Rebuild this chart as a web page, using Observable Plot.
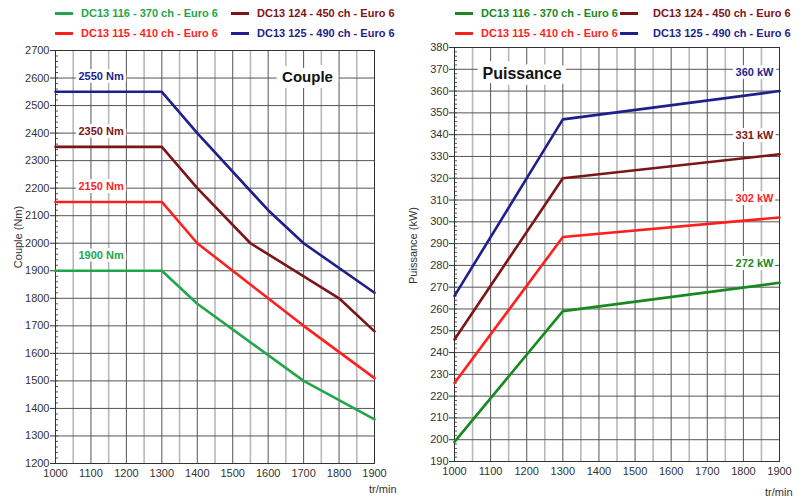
<!DOCTYPE html>
<html><head><meta charset="utf-8">
<script src="https://cdn.jsdelivr.net/npm/d3@7"></script>
<script src="https://cdn.jsdelivr.net/npm/@observablehq/plot@0.6"></script>
<style>
body{margin:0;background:#fff;font-family:"Liberation Sans",Arial,sans-serif}
#wrap{position:relative;width:804px;height:497px;overflow:hidden}
.chart{position:absolute;top:0}
.leg{position:absolute;font:bold 11px "Liberation Sans",Arial,sans-serif;white-space:nowrap;line-height:12px;height:12px}
.sw{position:absolute;height:3px;width:18px}
</style></head><body><div id="wrap"></div>
<script>
// ---- data ----
const seriesNames = ["DC13 116 - 370 ch - Euro 6","DC13 115 - 410 ch - Euro 6","DC13 124 - 450 ch - Euro 6","DC13 125 - 490 ch - Euro 6"];
const torqueColors = ["#22a64b","#ff1f1f","#7d1418","#1f1f8c"];
const powerColors  = ["#16891f","#ff1f1f","#7d1418","#1f1f8c"];

const torqueRpm116 = [1000,1300,1400,1700,1900];
const torque116    = [1900,1900,1780,1500,1360];
const torqueRpm115 = [1000,1300,1400,1700,1900];
const torque115    = [2150,2150,2000,1700,1510];
const torqueRpm124 = [1000,1300,1400,1550,1800,1900];
const torque124    = [2350,2350,2200,2000,1800,1680];
const torqueRpm125 = [1000,1300,1400,1600,1700,1900];
const torque125    = [2550,2550,2400,2120,2000,1820];

const powerRpm = [1000,1300,1900];
const power116 = [199,259,272];
const power115 = [226,293,302];
const power124 = [246,320,331];
const power125 = [266,347,360];

const torqueLabels = ["2550 Nm","2350 Nm","2150 Nm","1900 Nm"];
const torqueLabelValues = [2550,2350,2150,1900];
const torqueLabelSeries = [3,2,1,0];
const powerLabels = ["360 kW","331 kW","302 kW","272 kW"];
const powerLabelValues = [360,331,302,272];
const powerLabelSeries = [3,2,1,0];

const xTicks = d3.range(1000,1901,100);
const xMinorTicks = d3.range(1050,1900,100);
const torqueTicks = d3.range(1200,2701,100);
const torqueMinor = d3.range(1200,2701,20);
const powerTicks = d3.range(190,381,10);
const powerMinor = d3.range(190,381,2);

// legend order: row1 116, 124 ; row2 115, 125
const legendOrder = [[0,2],[1,3]];

// ---- build ----
function table(rpmsList, valsList){
  const out=[];
  rpmsList.forEach((rpms,i)=>rpms.forEach((r,j)=>out.push({name:seriesNames[i],rpm:r,value:valsList[i][j]})));
  return out;
}
const torqueRows = table([torqueRpm116,torqueRpm115,torqueRpm124,torqueRpm125],[torque116,torque115,torque124,torque125]);
const powerRows = table([powerRpm,powerRpm,powerRpm,powerRpm],[power116,power115,power124,power125]);

const font = {fontFamily:'"Liberation Sans", Arial, sans-serif', fontSize:"11px", color:"#333", background:"#fff", overflow:"visible"};
const fmt = d3.format("d");

function makeChart(o){
  return Plot.plot({
    width:402, height:497,
    marginTop:o.m[0], marginRight:o.m[1], marginBottom:o.m[2], marginLeft:o.m[3],
    style:font,
    x:{domain:[1000,1900]},
    y:{domain:o.yDomain},
    color:{domain:seriesNames, range:o.colors},
    marks:[
      Plot.gridX(xMinorTicks,{stroke:"#b8b8b8",strokeOpacity:1,strokeWidth:1.6}),
      Plot.gridX(xTicks,{stroke:"#555",strokeOpacity:1,strokeWidth:1}),
      Plot.gridY(o.yTicks,{stroke:"#555",strokeOpacity:1,strokeWidth:1}),
      Plot.axisX(xTicks,{tickSize:0,tickPadding:6,fontSize:11,fill:"#333",label:null,tickFormat:fmt}),
      Plot.axisY(o.yTicks,{tickSize:5,tickPadding:1,fontSize:11,fill:"#333",stroke:"#333",label:null,tickFormat:fmt}),
      Plot.axisY(o.yMinor,{tickSize:3,dx:3,tickFormat:()=>"",stroke:"#555",label:null}),
      Plot.frame({stroke:"#333"}),
      Plot.line(o.rows,{x:"rpm",y:"value",z:"name",stroke:"name",strokeWidth:2.6}),
      Plot.text(o.labels,{x:o.labelX,y:(d,i)=>o.labelValues[i],text:d=>d,dx:o.labelDx,dy:o.labelDy,
        textAnchor:o.labelAnchor,fill:(d,i)=>o.colors[o.labelSeries[i]],fontWeight:"bold",fontSize:11,
        stroke:"white",strokeWidth:6,strokeLinejoin:"round"}),
      Plot.text([o.title],{frameAnchor:o.titleFrame,dx:o.titleDx,dy:o.titleDy,textAnchor:o.titleAnchor,lineAnchor:"middle",
        fontWeight:"bold",fontSize:o.titleSize,fill:"#111",stroke:"white",strokeWidth:12,strokeLinejoin:"round"}),
      Plot.text([o.yLabel],{frameAnchor:"left",rotate:-90,dx:o.yLabelDx,dy:o.yLabelDy,textAnchor:"middle",lineAnchor:"middle",fontSize:11,fill:"#333"}),
      Plot.text(["tr/min"],{frameAnchor:"bottom-right",dx:o.unitDx,dy:o.unitDy,textAnchor:"end",lineAnchor:"middle",fontSize:11,fill:"#333"})
    ]
  });
}

const left = makeChart({
  m:[50,28,34,55], yDomain:[1200,2700], yTicks:torqueTicks, yMinor:torqueMinor, colors:torqueColors, rows:torqueRows,
  labels:torqueLabels, labelValues:torqueLabelValues, labelSeries:torqueLabelSeries, labelX:()=>1000, labelDx:23, labelDy:-15, labelAnchor:"start",
  title:"Couple", titleFrame:"top-right", titleDx:-67, titleDy:27, titleAnchor:"middle", titleSize:15,
  yLabel:"Couple (Nm)", yLabelDx:-37, yLabelDy:-20, unitDx:22, unitDy:26
});
const right = makeChart({
  m:[47,25,36,52], yDomain:[190,380], yTicks:powerTicks, yMinor:powerMinor, colors:powerColors, rows:powerRows,
  labels:powerLabels, labelValues:powerLabelValues, labelSeries:powerLabelSeries, labelX:()=>1900, labelDx:-6, labelDy:-19, labelAnchor:"end",
  title:"Puissance", titleFrame:"top-left", titleDx:28, titleDy:26, titleAnchor:"start", titleSize:16,
  yLabel:"Puissance (kW)", yLabelDx:-41, yLabelDy:-9, unitDx:13, unitDy:31
});

const wrap = document.getElementById("wrap");
left.classList.add("chart"); left.style.left="0px";
right.classList.add("chart"); right.style.left="402px";
wrap.appendChild(left); wrap.appendChild(right);

function legend(x0, colors, swX, txX){
  legendOrder.forEach((row,r)=>{
    row.forEach((si,c)=>{
      const y = [13,33][r];
      const sw = document.createElement("div");
      sw.className="sw"; sw.style.left=(x0+swX[c])+"px"; sw.style.top=(y-1)+"px"; sw.style.background=colors[si];
      const t = document.createElement("div");
      t.className="leg"; t.style.left=(x0+txX[c])+"px"; t.style.top=(y-6)+"px"; t.style.color=colors[si];
      t.textContent=seriesNames[si];
      wrap.appendChild(sw); wrap.appendChild(t);
    });
  });
}
legend(0, torqueColors, [55,231], [81,257]);
legend(400, powerColors, [55,220], [81,253]);
</script>
</body></html>
